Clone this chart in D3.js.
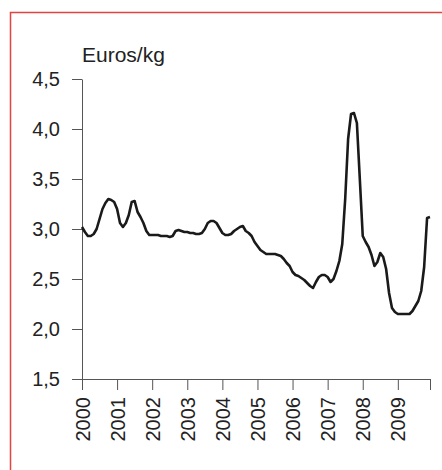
<!DOCTYPE html>
<html>
<head>
<meta charset="utf-8">
<script src="https://cdn.jsdelivr.net/npm/d3@7"></script>
<style>
  html, body { margin: 0; padding: 0; background: #fff; }
  svg { display: block; }
  text { font-family: "Liberation Sans", Arial, sans-serif; fill: #222; }
</style>
</head>
<body>
<svg id="chart" width="442" height="470"></svg>
<script>
// Monthly price, Jan 2000 .. Dec 2009 (Euros/kg)
const years = [2000, 2001, 2002, 2003, 2004, 2005, 2006, 2007, 2008, 2009];
const yTicks = [1.5, 2.0, 2.5, 3.0, 3.5, 4.0, 4.5];
const unitLabel = "Euros/kg";
const prices = [
  // 2000
  3.02, 2.97, 2.93, 2.93, 2.95, 3.00, 3.10, 3.20, 3.26, 3.30, 3.29, 3.27,
  // 2001
  3.20, 3.06, 3.02, 3.06, 3.14, 3.27, 3.28, 3.17, 3.12, 3.06, 2.98, 2.94,
  // 2002
  2.94, 2.94, 2.94, 2.93, 2.93, 2.93, 2.92, 2.93, 2.98, 2.99, 2.98, 2.97,
  // 2003
  2.97, 2.96, 2.96, 2.95, 2.95, 2.96, 3.00, 3.06, 3.08, 3.08, 3.06, 3.01,
  // 2004
  2.96, 2.94, 2.94, 2.95, 2.98, 3.00, 3.02, 3.03, 2.98, 2.96, 2.93, 2.87,
  // 2005
  2.83, 2.79, 2.77, 2.75, 2.75, 2.75, 2.75, 2.74, 2.73, 2.70, 2.66, 2.63,
  // 2006
  2.57, 2.54, 2.53, 2.51, 2.49, 2.46, 2.43, 2.41, 2.47, 2.52, 2.54, 2.54,
  // 2007
  2.52, 2.47, 2.50, 2.58, 2.68, 2.85, 3.30, 3.90, 4.15, 4.16, 4.06, 3.50,
  // 2008
  2.93, 2.87, 2.82, 2.74, 2.63, 2.67, 2.76, 2.72, 2.60, 2.36, 2.21, 2.17,
  // 2009
  2.15, 2.15, 2.15, 2.15, 2.15, 2.18, 2.23, 2.28, 2.38, 2.62, 3.11, 3.12
];

const svg = d3.select("#chart");
const W = 442, H = 470;

// red frame (open to the right and bottom)
svg.append("path")
  .attr("d", `M10.5,${H + 5} L10.5,12.5 L${W + 5},12.5`)
  .attr("fill", "none")
  .attr("stroke", "#e0463f")
  .attr("stroke-width", 1.5);

const x = d3.scaleLinear().domain([0, prices.length - 1]).range([82, 430]);
const y = d3.scaleLinear().domain([1.5, 4.5]).range([379, 79]);

const loc = d3.formatLocale({decimal: ",", thousands: ".", grouping: [3], currency: ["", "€"]});
const fmt = loc.format(".1f");

const axisColor = "#555";

// Y axis
const gy = svg.append("g")
  .attr("transform", "translate(82,0)")
  .call(d3.axisLeft(y).tickValues(yTicks).tickFormat(fmt).tickSize(10).tickSizeOuter(0).tickPadding(12));
gy.select(".domain").attr("stroke", axisColor);
gy.selectAll(".tick line").attr("stroke", axisColor);
gy.selectAll("text").attr("font-size", 20).attr("fill", "#222")
  .attr("font-family", "'Liberation Sans', Arial, sans-serif");

// X axis
const xTickVals = years.map((yr, i) => i * 12).concat([prices.length - 1]);
const gx = svg.append("g")
  .attr("transform", "translate(0,379)")
  .call(d3.axisBottom(x).tickValues(xTickVals)
    .tickFormat(d => (d % 12 === 0 && d / 12 < years.length) ? String(years[d / 12]) : "")
    .tickSize(11).tickSizeOuter(0));
gx.select(".domain").attr("stroke", axisColor);
gx.selectAll(".tick line").attr("stroke", axisColor);
gx.selectAll("text")
  .attr("font-size", 20).attr("fill", "#222")
  .attr("font-family", "'Liberation Sans', Arial, sans-serif")
  .attr("transform", "rotate(-90)")
  .attr("text-anchor", "end")
  .attr("x", -18)
  .attr("y", 0)
  .attr("dy", "0.35em");

// unit label
svg.append("text")
  .attr("x", 82).attr("y", 62)
  .attr("font-size", 21)
  .text(unitLabel);

// price line
const line = d3.line().x((d, i) => x(i)).y(d => y(d));
svg.append("path")
  .datum(prices)
  .attr("d", line)
  .attr("fill", "none")
  .attr("stroke", "#1a1a1a")
  .attr("stroke-width", 2.6)
  .attr("stroke-linejoin", "round");
</script>
</body>
</html>
